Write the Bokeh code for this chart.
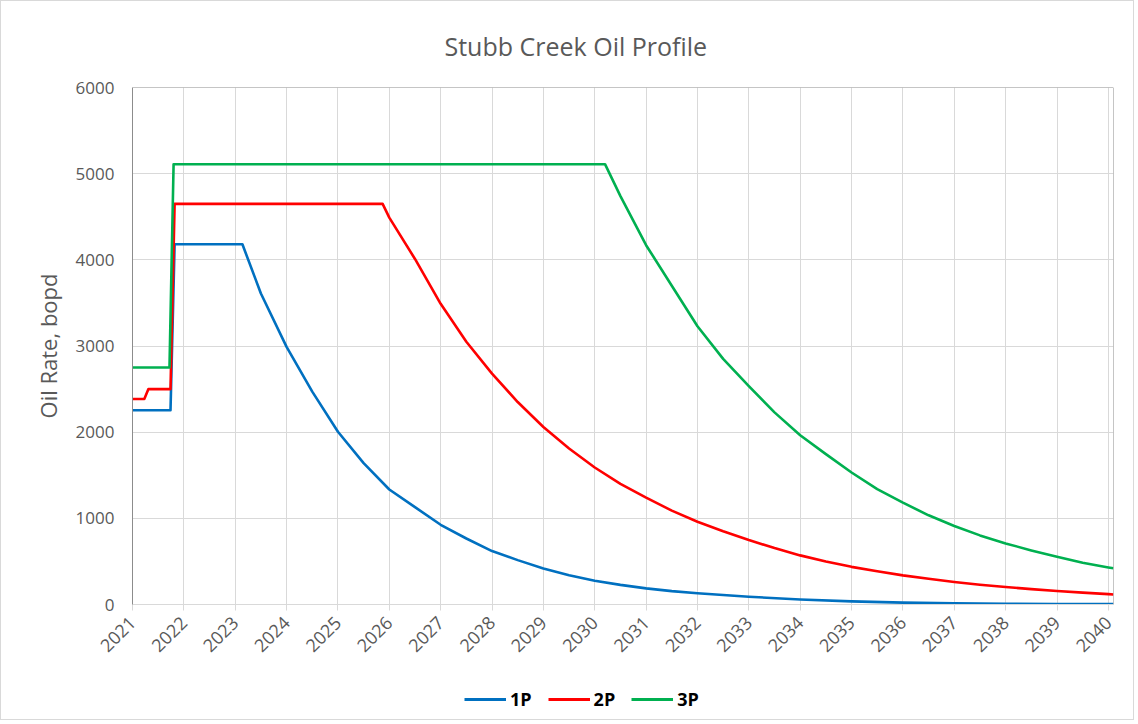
import math
from bokeh.plotting import figure
from bokeh.layouts import column
from bokeh.models import FixedTicker, Legend, LegendItem, Span
from bokeh.embed import file_html
from bokeh.resources import INLINE

# ---- data ----
years_1p = [2021.0, 2021.74, 2021.82, 2023.14, 2023.5, 2024.0, 2024.5, 2025.0, 2025.5,
            2026.0, 2026.5, 2027.0, 2027.5, 2028.0, 2028.5, 2029.0, 2029.5, 2030.0,
            2030.5, 2031.0, 2031.5, 2032.0, 2033.0, 2034.0, 2035.0, 2036.0, 2037.0,
            2038.0, 2039.0, 2040.0, 2040.1]
rate_1p = [2255, 2255, 4180, 4180, 3610, 2990, 2470, 2005, 1640,
           1335, 1130, 925, 766, 620, 515, 418, 340, 276,
           228, 187, 155, 130, 90, 58, 36, 22, 14,
           9, 6, 5, 5]

years_2p = [2021.0, 2021.23, 2021.31, 2021.74, 2021.82, 2025.87, 2026.0, 2026.5,
            2027.0, 2027.5, 2028.0, 2028.5, 2029.0, 2029.5, 2030.0, 2030.5, 2031.0,
            2031.5, 2032.0, 2032.5, 2033.0, 2033.5, 2034.0, 2034.5, 2035.0, 2035.5,
            2036.0, 2036.5, 2037.0, 2037.5, 2038.0, 2038.5, 2039.0, 2039.5, 2040.0,
            2040.1]
rate_2p = [2385, 2385, 2500, 2500, 4650, 4650, 4490, 4010,
           3490, 3050, 2680, 2350, 2060, 1810, 1590, 1400, 1240,
           1090, 960, 850, 748, 655, 570, 500, 437, 385,
           338, 298, 262, 230, 203, 178, 157, 138, 120,
           116]

years_3p = [2021.0, 2021.72, 2021.80, 2030.20, 2030.5, 2031.0, 2031.5, 2032.0, 2032.5,
            2033.0, 2033.5, 2034.0, 2034.5, 2035.0, 2035.5, 2036.0, 2036.5, 2037.0,
            2037.5, 2038.0, 2038.5, 2039.0, 2039.5, 2040.0, 2040.1]
rate_3p = [2750, 2750, 5110, 5110, 4740, 4170, 3700, 3230, 2850,
           2535, 2230, 1965, 1745, 1532, 1340, 1182, 1035, 911,
           802, 709, 628, 554, 484, 430, 420]

tick_years = list(range(2021, 2041))
series_names = ["1P", "2P", "3P"]
colors = ["#0070C0", "#FF0000", "#00B050"]

FONT = "Open Sans"
GREY_TXT = "#595959"

p = figure(
    frame_width=981, frame_height=517,
    x_range=(2021.0, 2040.1), y_range=(0, 6000),
    output_backend="svg", toolbar_location=None,
    min_border_left=131, min_border_right=20, min_border_top=85, min_border_bottom=75,
    title="Stubb Creek Oil Profile",
)
p.background_fill_color = "white"
p.border_fill_color = "white"
p.outline_line_color = None

p.title.text_font = FONT
p.title.text_font_size = "25px"
p.title.text_font_style = "normal"
p.title.text_color = GREY_TXT
p.title.align = "left"
p.title.offset = 312
p.title.standoff = 50

# axes
p.xaxis.ticker = FixedTicker(ticks=tick_years)
p.xaxis.major_label_overrides = {y: str(y) for y in tick_years}
p.xaxis.major_label_orientation = math.pi / 4
p.xaxis.minor_tick_line_color = None
p.xaxis.major_tick_out = 6
p.xaxis.major_tick_in = 0
p.xaxis.major_tick_line_color = "#d9d9d9"
p.xaxis.axis_line_color = "#d9d9d9"
p.xaxis.major_label_text_font = FONT
p.xaxis.major_label_text_font_size = "18px"
p.xaxis.major_label_text_color = GREY_TXT
p.xaxis.major_label_standoff = 9

p.yaxis.ticker = FixedTicker(ticks=[0, 1000, 2000, 3000, 4000, 5000, 6000])
p.yaxis.minor_tick_line_color = None
p.yaxis.major_tick_out = 0
p.yaxis.major_tick_in = 0
p.yaxis.axis_line_color = "#8c8c8c"
p.yaxis.major_label_text_font = FONT
p.yaxis.major_label_text_font_size = "17px"
p.yaxis.major_label_text_color = GREY_TXT
p.yaxis.major_label_standoff = 18
p.yaxis.axis_label = "Oil Rate, bopd"
p.yaxis.axis_label_text_font = FONT
p.yaxis.axis_label_text_font_size = "22px"
p.yaxis.axis_label_text_font_style = "normal"
p.yaxis.axis_label_text_color = GREY_TXT
p.yaxis.axis_label_standoff = 10

p.xgrid.grid_line_color = "#d9d9d9"
p.ygrid.grid_line_color = "#d9d9d9"
p.xgrid.grid_line_width = 1
p.ygrid.grid_line_width = 1

# frame border top / right
p.add_layout(Span(location=6000, dimension="width", line_color="#8c8c8c", line_width=1))
p.add_layout(Span(location=2040.1, dimension="height", line_color="#8c8c8c", line_width=1))

for name, xs, ys, c in zip(series_names, [years_1p, years_2p, years_3p],
                           [rate_1p, rate_2p, rate_3p], colors):
    p.line(xs, ys, line_color=c, line_width=2.6, line_join="round")

# legend strip below the chart (single-point legend samples: nothing is drawn)
pl = figure(
    width=1132, height=40, output_backend="svg", toolbar_location=None,
    min_border_left=0, min_border_right=0, min_border_top=0, min_border_bottom=0,
    x_range=(0, 1), y_range=(0, 1),
)
pl.axis.visible = False
pl.grid.visible = False
pl.outline_line_color = None
pl.background_fill_color = "white"
pl.border_fill_color = "white"
items = []
for name, c in zip(series_names, colors):
    r = pl.line([0], [0], line_color=c, line_width=3)
    items.append(LegendItem(label=name, renderers=[r]))
legend = Legend(items=items, orientation="horizontal", location=(332, 8),
                border_line_color=None, background_fill_alpha=0,
                label_text_font=FONT, label_text_font_style="bold",
                label_text_font_size="18px", label_text_color="black",
                glyph_width=42, glyph_height=18, spacing=16, label_standoff=4,
                padding=2, margin=0)
pl.add_layout(legend)

layout = column(p, pl, spacing=0, styles={"border": "1px solid #d9d9d9"})

open("out.html", "w").write(file_html(layout, INLINE))
